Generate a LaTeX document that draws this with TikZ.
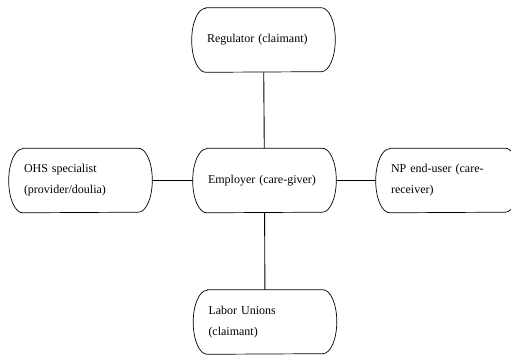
\documentclass[tikz,border=0pt]{standalone}
\usepackage{fontspec}
\setmainfont{Liberation Serif}
\usepackage{tikz}
\usetikzlibrary{arrows}

\begin{document}
\begin{tikzpicture}[x=1pt,y=1pt,semithick]
    \tikzstyle{stake}=[minimum width=143pt, minimum height=64pt, text width=113pt,
                       inner sep=0pt, align=left, text=black,
                       font=\fontsize{12}{21}\selectfont]
    \tikzstyle{link}=[draw=black, line width=0.9pt]

    \useasboundingbox (0,0) rectangle (511,355);

    \node[stake] (reg) at (263.5,315  ) {Regulator (claimant)};
    \node[stake] (emp) at (264.5,174.5) {Employer (care-giver)};
    \node[stake] (ohs) at ( 80.5,174.5) {OHS specialist\\(provider/doulia)};
    \node[stake] (np)  at (447.5,174.5) {NP end-user (care-\\receiver)};
    \node[stake] (lab) at (265  , 33  ) {Labor Unions\\(claimant)};

    % pill outlines
    \foreach \n in {reg,emp,ohs,np,lab}
      \draw[line width=0.7pt] ([xshift=14pt]\n.north west) -- ([xshift=-14pt]\n.north east)
        arc[start angle=90, end angle=-90, x radius=14pt, y radius=32pt]
        -- ([xshift=14pt]\n.south west)
        arc[start angle=270, end angle=90, x radius=14pt, y radius=32pt] -- cycle;

    \path[link]
     (emp) edge (reg)
     (emp) edge (ohs)
     (emp) edge (np)
     (emp) edge (lab);
  \end{tikzpicture}
\end{document}
